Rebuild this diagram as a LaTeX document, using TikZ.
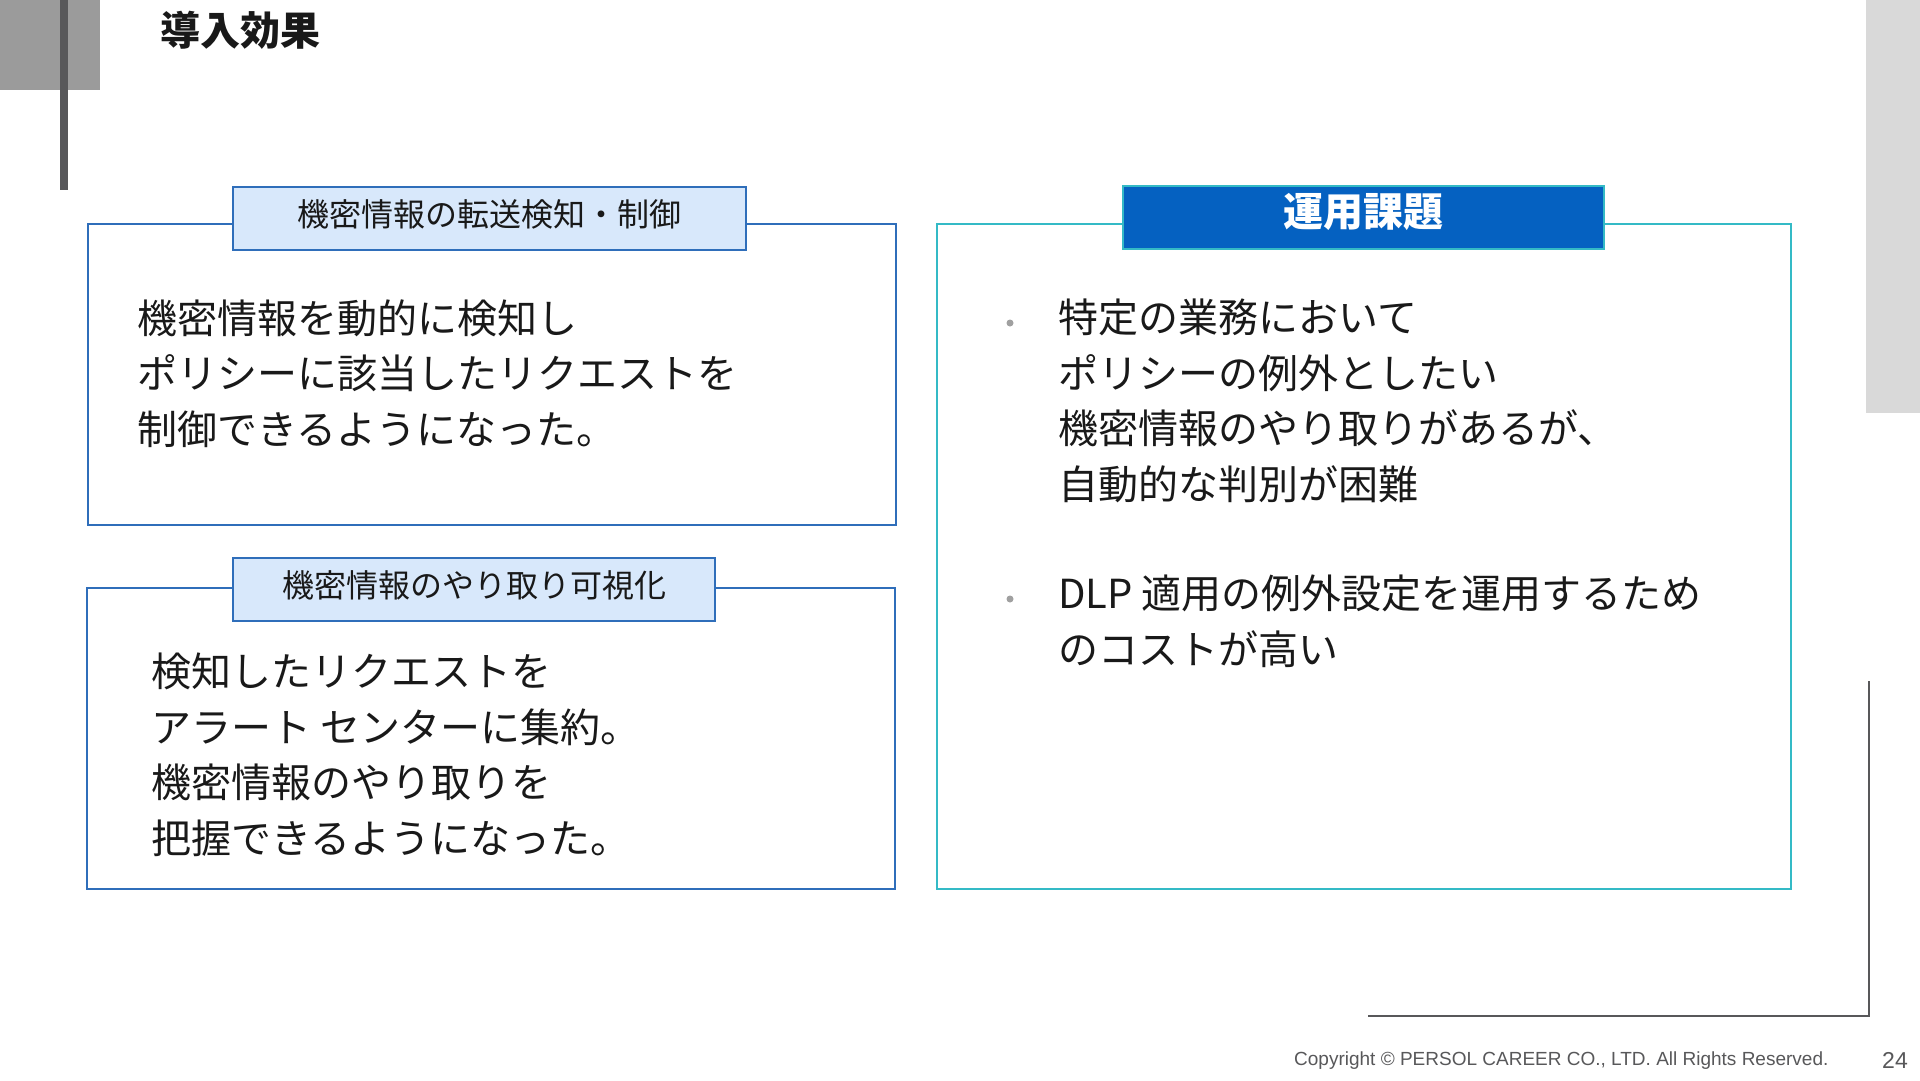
\documentclass[tikz,border=0pt]{standalone}
\usepackage{fontspec}
\setmainfont{Liberation Sans}
\newfontfamily\jpfont{Noto Sans CJK JP}
\definecolor{barGray}{RGB}{88,88,90}
\definecolor{squareGray}{RGB}{155,155,155}
\definecolor{stripGray}{RGB}{217,217,217}
\definecolor{frameBlue}{RGB}{47,110,186}
\definecolor{tabBlue}{RGB}{216,232,251}
\definecolor{frameTeal}{RGB}{52,186,198}
\definecolor{tabDeep}{RGB}{5,97,193}
\definecolor{dotGray}{RGB}{160,160,160}
\definecolor{inkBlack}{RGB}{25,25,25}
\begin{document}
\begin{tikzpicture}[x=1pt,y=-1pt,
  panel/.style={draw=frameBlue,line width=2pt,inner sep=0pt},
  tab/.style={draw=frameBlue,fill=tabBlue,line width=2pt,minimum height=63pt,inner sep=0pt,
    text height=22pt,text depth=6pt,text=inkBlack,font=\jpfont\fontsize{32}{38}\selectfont},
  body/.style={align=left,inner sep=0pt,anchor=west,text=inkBlack,
    font=\jpfont\fontsize{40}{55.5}\selectfont},
  dot/.style={circle,fill=dotGray,inner sep=0pt,minimum size=7pt}]
\useasboundingbox[fill=white] (0,0) rectangle (1920,1080);
% slide decoration
\fill[squareGray] (0,0) rectangle (100,90);
\fill[barGray] (60,0) rectangle (68,190);
\fill[stripGray] (1866,0) rectangle (1920,413);
\draw[barGray,line width=2pt] (1368,1016) -- (1869,1016) -- (1869,681);
\node[anchor=west,inner sep=0pt,text=inkBlack,font=\jpfont\bfseries\fontsize{40}{48}\selectfont] (title) at (160,30) {導入効果};

% left panels
\node[panel,minimum width=808pt,minimum height=301pt] (detect) at (492,374.5) {};
\node[tab,minimum width=513pt] (detectTab) at (489.5,218.5) {機密情報の転送検知・制御};
\node[body] (detectText) at (137,373.5) {機密情報を動的に検知し\\ポリシーに該当したリクエストを\\制御できるようになった。};

\node[panel,minimum width=808pt,minimum height=301pt] (visual) at (491,738.5) {};
\node[tab,minimum width=482pt] (visualTab) at (474,589.5) {機密情報のやり取り可視化};
\node[body] (visualText) at (151,755) {検知したリクエストを\\アラート センターに集約。\\機密情報のやり取りを\\把握できるようになった。};

% right panel
\node[panel,draw=frameTeal,minimum width=854pt,minimum height=665pt] (issues) at (1364,556.5) {};
\node[tab,draw=frameTeal,fill=tabDeep,text=white,minimum width=481pt,text height=28pt,text depth=10pt,
  font=\jpfont\bfseries\fontsize{40}{48}\selectfont] (issuesTab) at (1363.5,217.5) {運用課題};
\node[dot] (dotA) at (1010,323) {};
\node[body] (issueA) at (1058,401) {特定の業務において\\ポリシーの例外としたい\\機密情報のやり取りがあるが、\\自動的な判別が困難};
\node[dot] (dotB) at (1010,599) {};
\node[body] (issueB) at (1058,621.5) {DLP 適用の例外設定を運用するため\\のコストが高い};

% footer
\node[anchor=west,inner sep=0pt,text=barGray,font=\fontsize{19}{22}\selectfont] (copy) at (1294,1061) {Copyright © PERSOL CAREER CO., LTD. All Rights Reserved.};
\node[anchor=west,inner sep=0pt,text=barGray,font=\fontsize{23}{26}\selectfont] (page) at (1882,1060) {24};
\end{tikzpicture}
\end{document}
